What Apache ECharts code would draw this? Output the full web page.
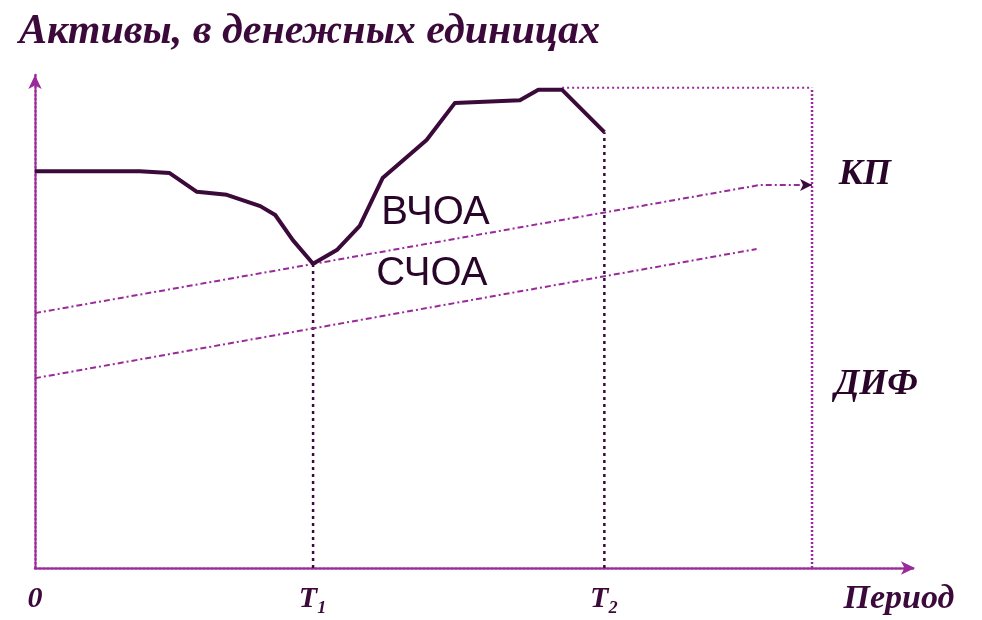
<!DOCTYPE html>
<html>
<head>
<meta charset="utf-8">
<script src="https://cdn.jsdelivr.net/npm/echarts@6/dist/echarts.min.js"></script>
<style>
  html, body { margin: 0; padding: 0; background: #fff; }
  #chart { width: 982px; height: 620px; }
</style>
</head>
<body>
<div id="chart"></div>
<script>
// схема: активы по периодам (условные единицы, ось 0..100)
var activesX = [0, 11.9, 15.3, 18.4, 21.8, 25.6, 27.3, 29.3, 31.6, 34.3, 36.9, 39.5, 44.5, 47.7, 55.1, 57.2, 59.9, 64.7];
var activesY = [80.5, 80.5, 80.1, 76.3, 75.7, 73.4, 71.6, 66.5, 61.7, 64.5, 69.4, 79.1, 86.8, 94.3, 94.9, 97.0, 97.0, 88.4];

var vchoaX = [0, 82.4, 88.3];   // ВЧОА + стрелка к КП
var vchoaY = [51.7, 77.7, 77.7];
var schoaX = [0, 82.0];
var schoaY = [38.5, 64.7];

var tickValues = [0, 31.6, 64.7];
var tickLabels = ["0", "T₁", "T₂"];
var t1Top = 61.7, t2Top = 88.4;
var boxRight = 88.3, boxTop = 97.4, boxLeft = 59.9;

// подписи [x, y, текст, стиль]
var notes = [
  [45.5, 72.0, "ВЧОА", "plain"],
  [45.1, 59.6, "СЧОА", "plain"],
  [94.3, 79.7, "КП", "ital"],
  [95.6, 37.1, "ДИФ", "ital"]
];

var purple = "#9a2a9a";
var dark = "#3b0a3b";

function zip(xs, ys) {
  return xs.map(function (x, i) { return [x, ys[i]]; });
}

var myChart = echarts.init(document.getElementById("chart"));

var vchoaData = zip(vchoaX, vchoaY);
vchoaData[2] = { value: vchoaData[2], symbol: "arrow", symbolSize: [9, 12], symbolRotate: -90 };

var guide = function (data, type, w, color) {
  return {
    type: "line",
    data: data,
    symbol: "none",
    silent: true,
    lineStyle: { color: color, width: w, type: type },
    z: 1
  };
};

var option = {
  animation: false,
  title: {
    text: "Активы, в денежных единицах",
    left: 14,
    top: 6,
    textStyle: {
      fontFamily: "Liberation Serif",
      fontStyle: "italic",
      fontWeight: "bold",
      fontSize: 42,
      color: dark
    }
  },
  grid: { left: 35, right: 67, top: 75, bottom: 52, containLabel: false },
  xAxis: {
    type: "value",
    min: 0,
    max: 100,
    name: "Период",
    nameLocation: "end",
    nameGap: -16,
    nameTextStyle: {
      fontFamily: "Liberation Serif",
      fontStyle: "italic",
      fontWeight: "bold",
      fontSize: 34,
      color: dark,
      align: "center",
      verticalAlign: "top",
      padding: [14, 0, 0, 0]
    },
    axisLine: {
      show: true,
      symbol: ["none", "arrow"],
      symbolSize: [10, 14],
      lineStyle: { color: purple, width: 2.5, type: [2, 2] }
    },
    axisTick: { show: false },
    splitLine: { show: false },
    axisLabel: {
      customValues: tickValues,
      formatter: function (v) {
        var i = tickValues.indexOf(v);
        return i >= 0 ? tickLabels[i] : "";
      },
      margin: 16,
      fontFamily: "Liberation Serif",
      fontStyle: "italic",
      fontWeight: "bold",
      fontSize: 30,
      color: dark
    }
  },
  yAxis: {
    type: "value",
    min: 0,
    max: 100,
    axisLine: {
      show: true,
      symbol: ["none", "arrow"],
      symbolSize: [10, 14],
      lineStyle: { color: purple, width: 2.5, type: [2, 2] }
    },
    axisTick: { show: false },
    axisLabel: { show: false },
    splitLine: { show: false }
  },
  series: [
    guide([[tickValues[1], 0], [tickValues[1], t1Top]], [3, 4], 2.5, dark),
    guide([[tickValues[2], 0], [tickValues[2], t2Top]], [3, 4], 2.5, dark),
    guide([[boxRight, 0], [boxRight, boxTop]], [2, 2], 2.5, purple),
    guide([[boxLeft, boxTop], [boxRight, boxTop]], [2, 3], 2, purple),
    {
      name: "ВЧОА",
      type: "line",
      data: vchoaData,
      symbol: "none",
      lineStyle: { color: purple, width: 2, type: [6, 3, 2, 3] },
      itemStyle: { color: dark },
      z: 2
    },
    {
      name: "СЧОА",
      type: "line",
      data: zip(schoaX, schoaY),
      symbol: "none",
      lineStyle: { color: purple, width: 2, type: [6, 3, 2, 3] },
      z: 2
    },
    {
      name: "Активы",
      type: "line",
      data: zip(activesX, activesY),
      symbol: "none",
      lineStyle: { color: dark, width: 4, join: "round" },
      z: 3
    },
    {
      type: "scatter",
      symbolSize: 0,
      silent: true,
      data: notes.map(function (n) {
        var ital = n[3] === "ital";
        return {
          value: [n[0], n[1]],
          label: {
            show: true,
            position: "inside",
            formatter: n[2],
            fontFamily: ital ? "Liberation Serif" : "Liberation Sans",
            fontStyle: ital ? "italic" : "normal",
            fontWeight: ital ? "bold" : "normal",
            fontSize: ital ? 36 : 40,
            color: "#2a052a",
            opacity: 1
          }
        };
      })
    }
  ]
};

myChart.setOption(option);
</script>
</body>
</html>
